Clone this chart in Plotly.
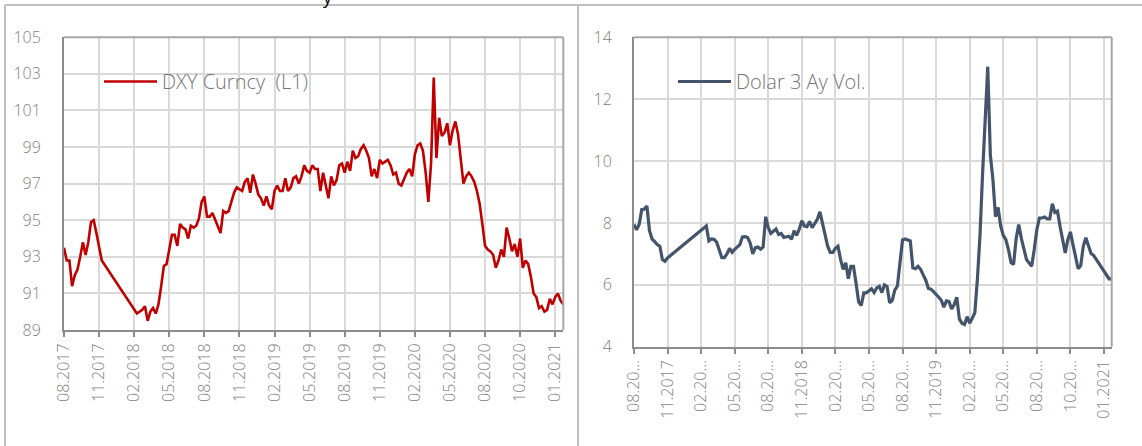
import plotly.graph_objects as go

# ---------------- data ----------------
tick_labels_left = ["08.2017", "11.2017", "02.2018", "05.2018", "08.2018", "11.2018",
                    "02.2019", "05.2019", "08.2019", "11.2019", "02.2020", "05.2020",
                    "08.2020", "10.2020", "01.2021"]
tick_labels_right = ["08.20\u2026", "11.2017", "02.20\u2026", "05.20\u2026", "08.20\u2026", "11.2018",
                     "02.20\u2026", "05.20\u2026", "08.20\u2026", "11.2019", "02.20\u2026", "05.20\u2026",
                     "08.20\u2026", "10.20\u2026", "01.2021"]

dxy = [
    93.5, 92.8, 92.8, 91.4, 92.0, 92.3, 93.0, 93.8, 93.1, 93.8,
    94.9, 95.0, 94.3, 93.6, 92.8, None, None, None, None, None,
    None, None, None, None, None, None, None, 89.9, 90.0, 90.1,
    90.3, 89.5, 90.0, 90.2, 89.9, 90.4, 91.4, 92.5, 92.6, 93.5,
    94.2, 94.2, 93.6, 94.8, 94.6, 94.5, 94.0, 94.7, 94.6, 94.7,
    95.1, 96.0, 96.3, 95.2, 95.2, 95.4, 95.0, 94.6, 94.3, 95.5,
    95.4, 95.5, 96.0, 96.5, 96.8, 96.7, 96.6, 97.1, 97.3, 96.5,
    97.5, 97.0, 96.4, 96.2, 95.8, 96.3, 95.8, 95.6, 96.6, 96.9,
    96.6, 96.6, 97.3, 96.6, 96.8, 97.3, 97.4, 97.0, 97.4, 98.0,
    97.7, 97.6, 98.0, 97.8, 97.8, 96.6, 97.6, 96.9, 96.2, 97.4,
    96.9, 97.2, 98.0, 98.1, 97.6, 98.2, 97.7, 98.8, 98.4, 98.5,
    98.9, 99.1, 98.8, 98.4, 97.4, 97.8, 97.3, 98.3, 98.1, 98.2,
    98.3, 98.0, 97.5, 97.6, 97.0, 96.9, 97.3, 97.6, 97.8, 97.4,
    98.6, 99.1, 99.2, 98.8, 97.6, 96.0, 98.1, 102.8, 98.4, 100.6,
    99.6, 99.8, 100.3, 99.1, 99.9, 100.4, 99.7, 98.3, 97.0, 97.4,
    97.6, 97.4, 97.1, 96.6, 95.9, 94.8, 93.6, 93.4, 93.3, 93.1,
    92.4, 92.8, 93.4, 93.0, 94.6, 94.0, 93.3, 93.7, 93.0, 94.0,
    92.4, 92.8, 92.6, 91.9, 91.0, 90.8, 90.2, 90.3, 90.0, 90.1,
    90.7, 90.4, 90.8, 91.0, 90.6, 90.4,
]

vol = [
    7.95, 7.78, 7.95, 8.43, 8.45, 8.55, 7.75, 7.48, 7.4, 7.3,
    7.25, 6.82, 6.76, 6.87, None, None, None, None, None, None,
    None, None, None, None, None, None, None, None, 7.9, 7.42,
    7.48, 7.47, 7.38, 7.1, 6.88, 6.88, 7.0, 7.18, 7.05, 7.15,
    7.22, 7.3, 7.55, 7.56, 7.53, 7.35, 7.0, 7.2, 7.22, 7.15,
    7.22, 8.2, 7.85, 7.66, 7.73, 7.8, 7.63, 7.66, 7.53, 7.55,
    7.57, 7.47, 7.75, 7.6, 7.8, 8.07, 7.9, 7.88, 8.05, 7.85,
    8.0, 8.12, 8.36, 8.0, 7.57, 7.25, 7.05, 7.05, 7.18, 7.25,
    6.82, 6.5, 6.71, 6.2, 6.6, 6.6, 6.05, 5.45, 5.33, 5.74,
    5.74, 5.8, 5.87, 5.75, 5.9, 5.95, 5.75, 6.0, 5.95, 5.42,
    5.5, 5.83, 5.96, 6.71, 7.45, 7.48, 7.46, 7.42, 6.55, 6.52,
    6.6, 6.5, 6.32, 6.15, 5.88, 5.86, 5.78, 5.7, 5.6, 5.5,
    5.28, 5.48, 5.46, 5.22, 5.36, 5.6, 4.9, 4.76, 4.72, 4.97,
    4.76, 4.92, 5.1, 6.2, 7.6, 9.6, 11.3, 13.05, 10.2, 9.4,
    8.2, 8.5, 7.9, 7.6, 7.46, 7.15, 6.72, 6.66, 7.5, 7.95,
    7.5, 7.2, 6.82, 6.71, 6.6, 7.14, 7.78, 8.16, 8.16, 8.19,
    8.13, 8.13, 8.62, 8.34, 8.38, 7.89, 7.41, 7.03, 7.46, 7.71,
    7.3, 6.87, 6.52, 6.62, 7.25, 7.52, 7.3, 7.01, 6.95, 6.82,
    6.71, 6.55, 6.44, 6.3, 6.19, 6.2,
]

series_left_name = "DXY Curncy  (L1)"
series_right_name = "Dolar 3 Ay Vol."

# ---------------- layout helpers ----------------
W, H = 1142, 446
TICK_STEP = 13


def px_x(p):
    return p / W


def px_y(p):
    return 1 - p / H


x_idx_left = list(range(len(dxy)))
x_idx_right = list(range(len(vol)))
tickvals = [i * TICK_STEP for i in range(len(tick_labels_left))]

FONT = "Open Sans, Lato, sans-serif"
LBL = "#7f7f7f"
GRID = "#d9d9d9"
AXIS = "#8c8c8c"
RED = "#c00000"
SLATE = "#44546a"

fig = go.Figure()
fig.add_trace(go.Scatter(x=x_idx_left, y=dxy, mode="lines", name=series_left_name,
                         line=dict(color=RED, width=2.6), connectgaps=True,
                         xaxis="x", yaxis="y", showlegend=False))
fig.add_trace(go.Scatter(x=x_idx_right, y=vol, mode="lines", name=series_right_name,
                         line=dict(color=SLATE, width=3.2), connectgaps=True,
                         xaxis="x2", yaxis="y2", showlegend=False))

common_x = dict(tickmode="array", tickvals=tickvals, tickangle=-90,
                showgrid=True, gridcolor=GRID, gridwidth=2,
                showline=True, linecolor=AXIS, linewidth=2,
                ticks="outside", ticklen=5, tickwidth=2, tickcolor=AXIS,
                tickfont=dict(family=FONT, size=16, color=LBL, weight=300),
                zeroline=False, fixedrange=True, automargin=False)
common_y = dict(showgrid=True, gridcolor=GRID, gridwidth=2,
                showline=True, linecolor=AXIS, linewidth=2,
                ticks="", tickmode="linear", dtick=2,
                tickfont=dict(family=FONT, size=16, color=LBL, weight=300),
                zeroline=False, fixedrange=True, automargin=False)

L_x0, L_x1, L_yt, L_yb = 64, 563.3, 37.3, 330
R_x0, R_x1, R_yt, R_yb = 634, 1111.7, 37.3, 346.7

fig.update_layout(
    width=W, height=H, margin=dict(l=0, r=0, t=0, b=0, pad=0, autoexpand=False),
    paper_bgcolor="white", plot_bgcolor="white", showlegend=False,
    xaxis=dict(common_x, domain=[px_x(L_x0), px_x(L_x1)], range=[0, len(dxy) - 1],
               ticktext=tick_labels_left, anchor="y"),
    yaxis=dict(common_y, domain=[px_y(L_yb), px_y(L_yt)], range=[89, 105], tick0=89,
               ticklabelstandoff=18, anchor="x"),
    xaxis2=dict(common_x, domain=[px_x(R_x0), px_x(R_x1)], range=[0, len(vol) - 1],
                ticktext=tick_labels_right, anchor="y2"),
    yaxis2=dict(common_y, domain=[px_y(R_yb), px_y(R_yt)], range=[4, 14], tick0=4,
                ticklabelstandoff=17, anchor="x2"),
)

shapes = []
# panel frame lines
border = dict(color="#bfbfbf", width=2)
shapes.append(dict(type="line", xref="paper", yref="paper", x0=px_x(5), x1=1,
                   y0=px_y(5), y1=px_y(5), line=border))
shapes.append(dict(type="line", xref="paper", yref="paper", x0=px_x(5), x1=px_x(5),
                   y0=0, y1=px_y(5), line=border))
shapes.append(dict(type="line", xref="paper", yref="paper", x0=px_x(578), x1=px_x(578),
                   y0=0, y1=px_y(5), line=border))
# plot-area top/right border
for xr, yr in (("x domain", "y domain"), ("x2 domain", "y2 domain")):
    shapes.append(dict(type="line", xref=xr, yref=yr, x0=0, x1=1, y0=1, y1=1,
                       line=dict(color="#a6a6a6", width=2)))
    shapes.append(dict(type="line", xref=xr, yref=yr, x0=1, x1=1, y0=0, y1=1,
                       line=dict(color="#a6a6a6", width=2)))
# legend samples
shapes.append(dict(type="line", xref="paper", yref="paper", x0=px_x(104), x1=px_x(157),
                   y0=px_y(81.5), y1=px_y(81.5), line=dict(color=RED, width=2.6)))
shapes.append(dict(type="line", xref="paper", yref="paper", x0=px_x(678), x1=px_x(731),
                   y0=px_y(81.5), y1=px_y(81.5), line=dict(color=SLATE, width=3.2)))

annotations = [
    dict(text=series_left_name.replace("  ", "\u00a0 "), xref="paper", yref="paper",
         x=px_x(160), y=px_y(82), xanchor="left", yanchor="middle", showarrow=False,
         font=dict(family=FONT, size=20, color="#767676", weight=300)),
    dict(text=series_right_name, xref="paper", yref="paper",
         x=px_x(734), y=px_y(82), xanchor="left", yanchor="middle", showarrow=False,
         font=dict(family=FONT, size=20, color="#767676", weight=300)),
    dict(text="y", xref="paper", yref="paper", x=px_x(328), y=1, xanchor="center",
         yanchor="top", yshift=17, showarrow=False,
         font=dict(family=FONT, size=18, color="#000000")),
]

fig.update_layout(shapes=shapes, annotations=annotations)

fig.write_html("out.html", config={"displayModeBar": False, "staticPlot": True},
               post_script="document.body.style.margin='0';document.body.style.padding='0';")
